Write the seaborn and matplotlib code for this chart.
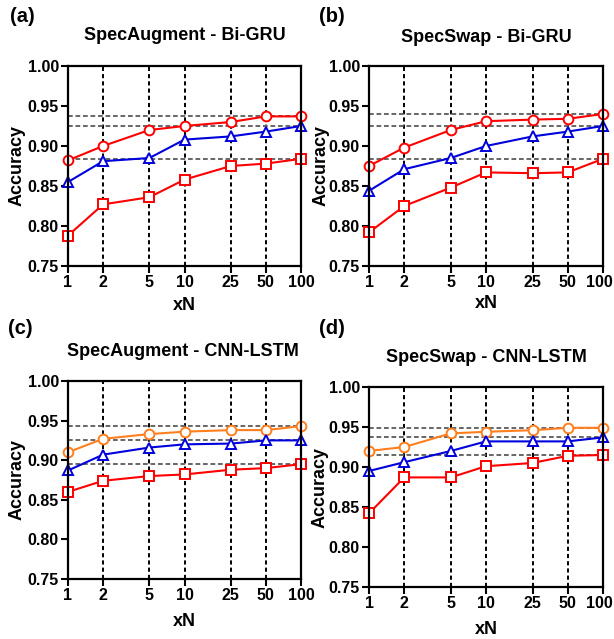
import numpy as np
import pandas as pd
import matplotlib
matplotlib.use('Agg')
import matplotlib.pyplot as plt
import matplotlib.transforms as mtransforms
import seaborn as sns

# ---------------- data ----------------
xN = [1, 2, 5, 10, 25, 50, 100]
x_labels = ['1', '2', '5', '10', '25', '50', '100']
y_ticks = [0.75, 0.80, 0.85, 0.90, 0.95, 1.00]

a_circle = [0.882, 0.900, 0.920, 0.925, 0.930, 0.937, 0.937]
a_triangle = [0.855, 0.881, 0.885, 0.908, 0.912, 0.918, 0.925]
a_square = [0.788, 0.827, 0.836, 0.858, 0.875, 0.878, 0.884]

b_circle = [0.875, 0.898, 0.920, 0.931, 0.933, 0.934, 0.940]
b_triangle = [0.844, 0.871, 0.885, 0.900, 0.912, 0.918, 0.925]
b_square = [0.792, 0.825, 0.848, 0.867, 0.866, 0.867, 0.884]

c_circle = [0.910, 0.927, 0.933, 0.936, 0.938, 0.938, 0.943]
c_triangle = [0.887, 0.907, 0.916, 0.920, 0.921, 0.925, 0.925]
c_square = [0.860, 0.874, 0.880, 0.882, 0.888, 0.890, 0.895]

d_circle = [0.920, 0.925, 0.942, 0.944, 0.946, 0.949, 0.949]
d_triangle = [0.895, 0.906, 0.920, 0.932, 0.932, 0.932, 0.937]
d_square = [0.842, 0.887, 0.887, 0.901, 0.905, 0.914, 0.915]

titles = ['SpecAugment - Bi-GRU', 'SpecSwap - Bi-GRU',
          'SpecAugment - CNN-LSTM', 'SpecSwap - CNN-LSTM']
panel_tags = ['(a)', '(b)', '(c)', '(d)']

RED = '#FF0000'
BLUE = '#0000DD'
ORANGE = '#FF7F1E'

# ---------------- style ----------------
sns.set_theme(style='white')
plt.rcParams['font.family'] = ['Liberation Sans', 'DejaVu Sans']
plt.rcParams['font.weight'] = 'bold'
plt.rcParams['lines.scale_dashes'] = False

W, H = 614, 639
fig = plt.figure(figsize=(W / 100, H / 100), dpi=100)
fig.patch.set_facecolor('white')


def box(l, t, r, b):
    return [l / W, 1 - b / H, (r - l) / W, (b - t) / H]


panels = [
    dict(data=(a_circle, a_triangle, a_square), ccol=RED,
         box=box(68, 66, 301, 266), tag=(22, 17), title=(185, 36),
         ylab=17, xlab=305, right=False),
    dict(data=(b_circle, b_triangle, b_square), ccol=RED,
         box=box(369, 66, 603, 266), tag=(332, 16), title=(486, 37),
         ylab=321, xlab=304, right=True),
    dict(data=(c_circle, c_triangle, c_square), ccol=ORANGE,
         box=box(68, 381, 301, 579), tag=(20, 328), title=(183, 352),
         ylab=17, xlab=622, right=False),
    dict(data=(d_circle, d_triangle, d_square), ccol=ORANGE,
         box=box(369, 387, 603, 587), tag=(332, 329), title=(486, 358),
         ylab=320, xlab=630, right=True),
]

for i, p in enumerate(panels):
    ax = fig.add_axes(p['box'])
    ax.set_facecolor('white')
    circ, tri, sq = p['data']
    df = pd.DataFrame({'xN': xN * 3,
                       'acc': list(circ) + list(tri) + list(sq),
                       'series': ['circle'] * 7 + ['triangle'] * 7 + ['square'] * 7})
    ax.set_xscale('log')

    # vertical dashed grid at ticks
    for xv in xN[1:-1]:
        ax.axvline(xv, color='black', lw=1.4, ls=(0, (3.0, 2.2)), zorder=1)
    # horizontal gray reference lines at series maxima
    for ser in (circ, tri, sq):
        ax.axhline(max(ser), color='#666666', lw=1.4, ls=(0, (3.4, 2.0)), zorder=1)

    specs = [('circle', 'o', p['ccol']), ('triangle', '^', BLUE), ('square', 's', RED)]
    for name, mk, col in specs:
        sub = df[df['series'] == name]
        sns.lineplot(data=sub, x='xN', y='acc', ax=ax, color=col, lw=1.5,
                     marker=mk, markersize=7 if mk != '^' else 7.5,
                     markerfacecolor='white', markeredgecolor=col,
                     markeredgewidth=1.4, zorder=3, clip_on=False)

    ax.set_xlim(1, 100)
    ax.set_ylim(0.75, 1.00)
    ax.set_xticks(xN)
    ax.set_xticklabels(x_labels)
    ax.xaxis.set_minor_locator(matplotlib.ticker.NullLocator())
    ax.set_yticks(y_ticks)
    ax.set_yticklabels([f'{v:.2f}' for v in y_ticks])
    ax.tick_params(axis='both', which='major', direction='out', length=5,
                   width=1.5, color='black', labelsize=11.5, pad=1.5,
                   bottom=True, left=True, labelcolor='black')
    for lab in ax.get_xticklabels() + ax.get_yticklabels():
        lab.set_fontweight('bold')
    if p['right']:
        last = ax.get_xticklabels()[-1]
        last.set_transform(last.get_transform() +
                           mtransforms.ScaledTranslation(-4 / 100, 0, fig.dpi_scale_trans))
    for s in ax.spines.values():
        s.set_color('black')
        s.set_linewidth(1.6)
        s.set_zorder(4)

    ax.set_ylabel('')
    ax.set_xlabel('')
    if ax.get_legend() is not None:
        ax.get_legend().remove()

    yc = p['box'][1] + p['box'][3] / 2
    fig.text(p['ylab'] / W, yc, 'Accuracy', rotation=90, ha='center', va='center',
             fontsize=13, fontweight='bold', color='black')
    xc = p['box'][0] + p['box'][2] / 2
    fig.text(xc, 1 - p['xlab'] / H, 'xN', ha='center', va='center',
             fontsize=13, fontweight='bold', color='black')

    tx, ty = p['title']
    fig.text(tx / W, 1 - ty / H, titles[i], ha='center', va='center',
             fontsize=13, fontweight='bold', color='black')
    gx, gy = p['tag']
    fig.text(gx / W, 1 - gy / H, panel_tags[i], ha='center', va='center',
             fontsize=14.5, fontweight='bold', color='black')

fig.savefig('out.png', dpi=100, facecolor='white')
